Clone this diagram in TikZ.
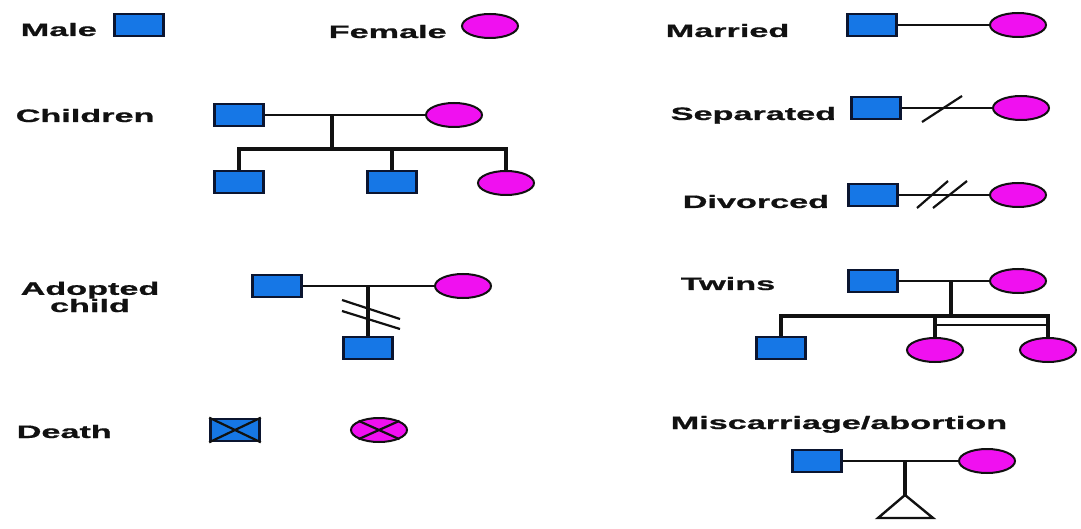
\documentclass[tikz,border=0pt]{standalone}
\usepackage{fontspec}
\setmainfont{Liberation Sans}[BoldFeatures={FakeBold=0.7}]
\usepackage{tikz}
\usetikzlibrary{calc,shapes.geometric}
\definecolor{cMale}{HTML}{1677E6}
\definecolor{cFem}{HTML}{F010F0}
\definecolor{cRim}{HTML}{0B1530}
\definecolor{cLine}{HTML}{111111}
\tikzset{
  male/.style   = {rectangle, draw=cRim, fill=cMale, line width=1.3pt,
                   minimum width=24.5pt, minimum height=11pt, inner sep=0pt},
  fem/.style    = {ellipse, draw=cLine, fill=cFem, line width=1pt,
                   minimum width=28pt, minimum height=12pt, inner sep=0pt},
  lab/.style    = {font=\fontsize{9}{8.6}\selectfont\bfseries, text=cLine,
                   inner sep=0pt, xscale=1.9, transform shape},
  wed/.style    = {draw=cLine, line width=1.2pt},
  kid/.style    = {draw=cLine, line width=1.8pt},
  cut/.style    = {draw=cLine, line width=1.1pt},
}
\begin{document}
\begin{tikzpicture}[x=0.5pt, y=-0.5pt]
  \useasboundingbox (0,0) rectangle (1081,529);

  % ---- single symbols ----
  \node[lab, anchor=base west] (lMale) at (20,36) {Male};
  \node[male] (sMale) at (139,25) {};
  \node[lab, anchor=base west] (lFem) at (328,38) {Female};
  \node[fem] (sFem) at (490,26) {};

  % ---- married / separated / divorced ----
  \node[lab, anchor=base west] (lMar) at (665,37) {Married};
  \node[male] (mm) at (872,25) {};
  \node[fem] (mf) at (1018,25) {};
  \draw[wed] (mm) -- (mf);

  \node[lab, anchor=base west] (lSep) at (670,120) {Separated};
  \node[male] (sm) at (876,108) {};
  \node[fem] (sf) at (1021,108) {};
  \draw[wed] (sm) -- (sf);
  \coordinate (s1a) at (922,122); \coordinate (s1b) at (962,96);
  \draw[cut] (s1a) -- (s1b);

  \node[lab, anchor=base west] (lDiv) at (682,208) {Divorced};
  \node[male] (dm) at (873,195) {};
  \node[fem] (df) at (1018,195) {};
  \draw[wed] (dm) -- (df);
  \coordinate (d1a) at (917,208); \coordinate (d1b) at (948,181);
  \coordinate (d2a) at (933,208); \coordinate (d2b) at (967,181);
  \draw[cut] (d1a) -- (d1b);
  \draw[cut] (d2a) -- (d2b);

  % ---- children ----
  \node[lab, anchor=base west] (lKid) at (15,122) {Children};
  \node[male] (cm) at (239,115) {};
  \node[fem] (cf) at (454,115) {};
  \draw[wed] (cm) -- (cf);
  \coordinate (ck) at (332,115);
  \coordinate (cb) at (332,149);
  \node[male] (c1) at (239,182) {};
  \node[male] (c2) at (392,182) {};
  \node[fem] (c3) at (506,183) {};
  \draw[kid] (ck) -- (cb);
  \draw[kid] (c1.north) |- (cb -| c3.north) -- (c3.north);
  \draw[kid] (c2.north) -- (c2.north |- cb);

  % ---- adopted child ----
  \node[lab, align=center] (lAdo) at (90,297) {Adopted\\child};
  \node[male] (am) at (277,286) {};
  \node[fem] (af) at (463,286) {};
  \draw[wed] (am) -- (af);
  \coordinate (ak) at (368,286);
  \node[male] (ac) at (368,348) {};
  \draw[kid] (ak) -- (ac.north);
  \coordinate (a1a) at (342,300); \coordinate (a1b) at (400,319);
  \coordinate (a2a) at (342,311); \coordinate (a2b) at (400,329);
  \draw[cut] (a1a) -- (a1b);
  \draw[cut] (a2a) -- (a2b);

  % ---- twins ----
  \node[lab, anchor=base west] (lTwin) at (680,290) {Twins};
  \node[male] (tm) at (873,281) {};
  \node[fem] (tf) at (1018,281) {};
  \draw[wed] (tm) -- (tf);
  \coordinate (tk) at (951,281);
  \coordinate (tb) at (951,316);
  \node[male] (t1) at (781,348) {};
  \node[fem] (t2) at (935,350) {};
  \node[fem] (t3) at (1048,350) {};
  \draw[kid] (tk) -- (tb);
  \draw[kid] (t1.north) |- (tb -| t3.north) -- (t3.north);
  \draw[kid] (t2.north) -- (t2.north |- tb);
  \draw[wed] ($(t2.north |- tb)+(0,9)$) -- ($(t3.north |- tb)+(0,9)$);

  % ---- death ----
  \node[lab, anchor=base west] (lDth) at (16,438) {Death};
  \node[male] (xm) at (235,430) {};
  \draw[cut] (xm.north west) -- (xm.south east);
  \draw[cut] (xm.north east) -- (xm.south west);
  \node[fem] (xf) at (379,430) {};
  \draw[cut] (xf.north west) -- (xf.south east);
  \draw[cut] (xf.north east) -- (xf.south west);

  % ---- miscarriage ----
  \node[lab, anchor=base west] (lMis) at (670,429) {Miscarriage/abortion};
  \node[male] (om) at (817,461) {};
  \node[fem] (of) at (987,461) {};
  \draw[wed] (om) -- (of);
  \coordinate (ok) at (905,461);
  \coordinate (ot) at (905,495);
  \draw[kid] (ok) -- (ot);
  \draw[wed, line join=miter] (ot) -- ++(-27,23) -- ++(55,0) -- cycle;
\end{tikzpicture}
\end{document}
